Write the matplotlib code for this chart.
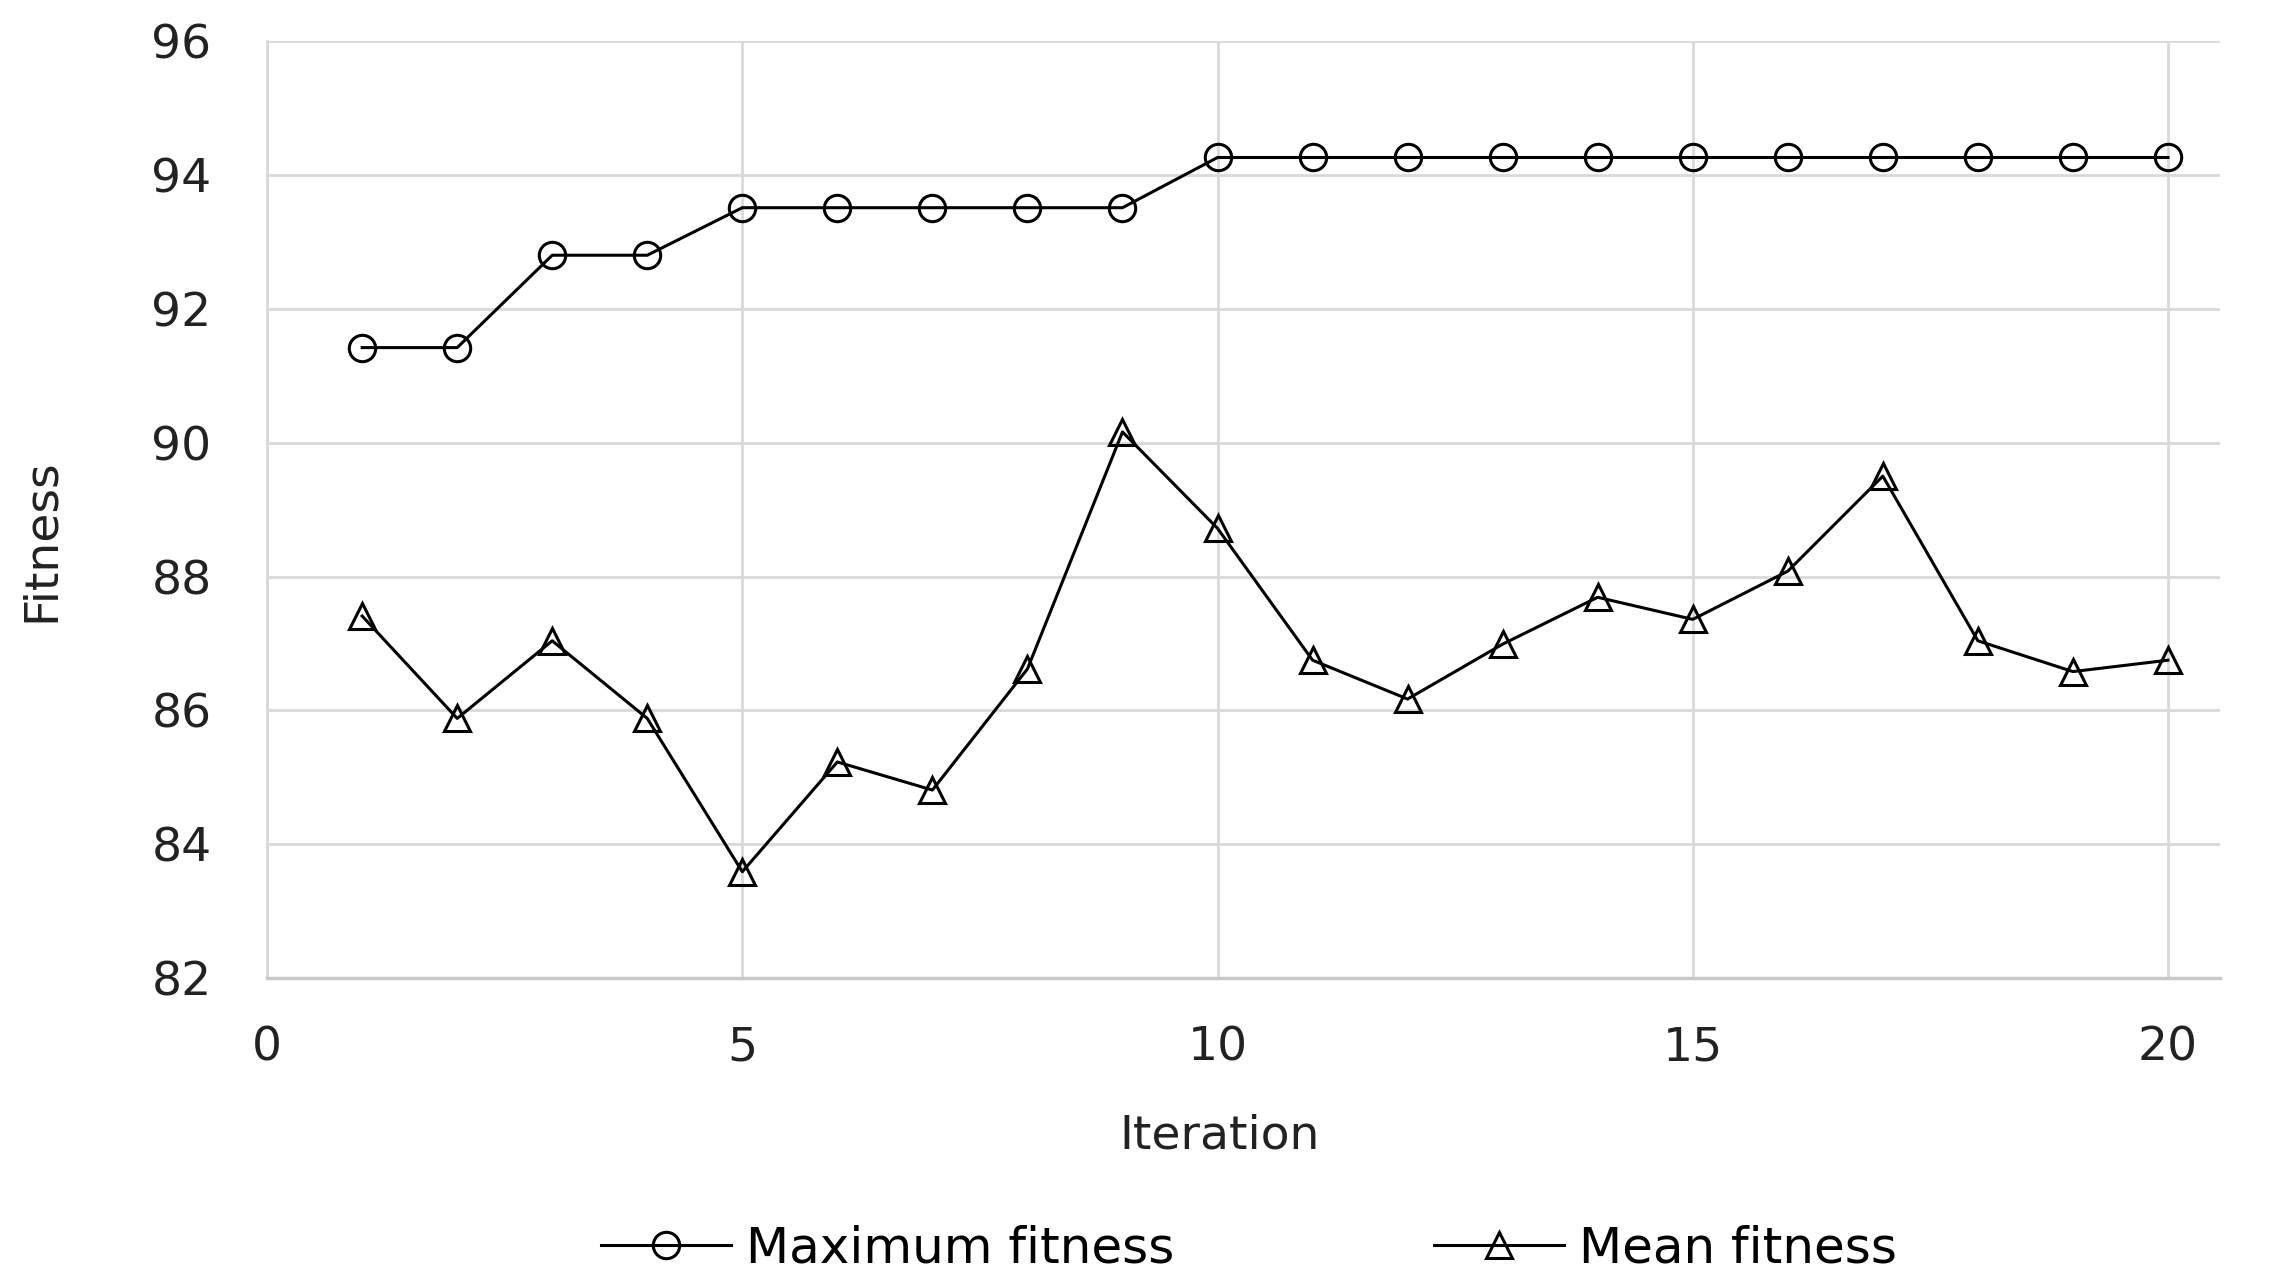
import matplotlib.pyplot as plt
import numpy as np

plt.rcParams.update({'font.size': 34, 'font.family': 'DejaVu Sans'})

iterations = np.arange(1, 21)
max_fitness = [91.42, 91.42, 92.8, 92.8, 93.51, 93.51, 93.51, 93.51, 93.51, 94.26,
               94.26, 94.26, 94.26, 94.26, 94.26, 94.26, 94.26, 94.26, 94.26, 94.26]
mean_fitness = [87.41, 85.88, 87.04, 85.88, 83.59, 85.23, 84.81, 86.62, 90.16, 88.72,
                86.75, 86.17, 86.99, 87.69, 87.36, 88.08, 89.5, 87.04, 86.58, 86.75]

fig = plt.figure(figsize=(22.83, 12.82), dpi=100)
ax = fig.add_axes([0.117, 0.237, 0.8555, 0.731])

ax.plot(iterations, max_fitness, color='black', lw=2.2, marker='o', markersize=19,
        markerfacecolor='none', markeredgewidth=2.2, label='Maximum fitness', clip_on=False)
ax.plot(iterations, mean_fitness, color='black', lw=2.2, marker='^', markersize=19,
        markerfacecolor='none', markeredgewidth=2.2, label='Mean fitness', clip_on=False)

ax.set_xlim(0, 20.55)
ax.set_ylim(82, 96)
ax.set_xticks([0, 5, 10, 15, 20])
ax.set_yticks(np.arange(82, 97, 2))
ax.grid(True, color='#d9d9d9', lw=2)
ax.set_axisbelow(True)
for s in ['top', 'right']:
    ax.spines[s].set_visible(False)
ax.spines['left'].set_color('#d9d9d9')
ax.spines['left'].set_linewidth(2)
ax.spines['bottom'].set_color('#c8c8c8')
ax.spines['bottom'].set_linewidth(2.5)
ax.tick_params(length=0, pad=34, colors='#222222')
ax.tick_params(axis='y', pad=40)

fig.text(0.018, 0.579, 'Fitness', rotation=90, ha='center', va='center', color='#222222')
fig.text(0.534, 0.114, 'Iteration', ha='center', va='center', color='#222222')

fig.legend(loc='center', bbox_to_anchor=(0.547, 0.026), ncol=2, frameon=False,
           fontsize=36, handlelength=2.6, handletextpad=0.3, columnspacing=5.2)

plt.savefig('out.png', dpi=100)
